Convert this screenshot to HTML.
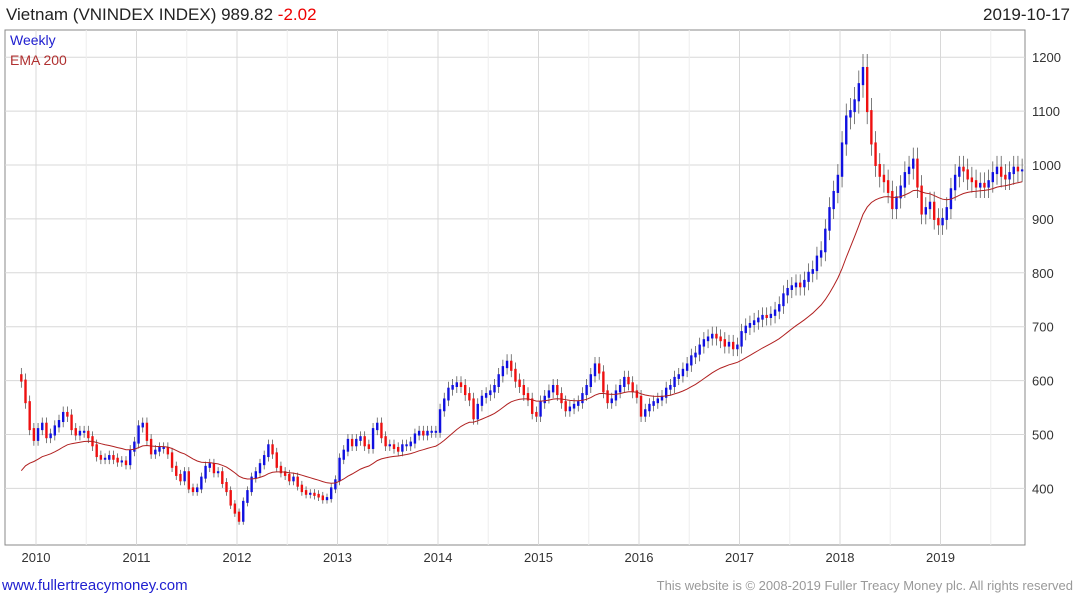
<!DOCTYPE html>
<html><head><meta charset="utf-8"><style>
body{margin:0;background:#fff;font-family:"Liberation Sans",sans-serif;}
svg text{font-family:"Liberation Sans",sans-serif;}
</style></head><body>
<svg id="c" width="1075" height="600">
<text x="6" y="20" font-size="17" fill="#222">Vietnam (VNINDEX INDEX) 989.82 <tspan fill="#e00">-2.02</tspan></text>
<text x="1070" y="20" font-size="17" fill="#222" text-anchor="end">2019-10-17</text>
<rect x="5" y="30" width="1020" height="515" fill="none" stroke="#888"/>
<g id="grid"></g><g id="marks"></g>
<text x="10" y="45" font-size="14" fill="#2020d0">Weekly</text>
<text x="10" y="65" font-size="14" fill="#b03030">EMA 200</text>
<text x="2" y="590" font-size="15" fill="#2020d0">www.fullertreacymoney.com</text>
<text x="1073" y="590" font-size="13" fill="#999" text-anchor="end">This website is © 2008-2019 Fuller Treacy Money plc. All rights reserved</text>
</svg>
<script>
const yTicks=[400,500,600,700,800,900,1000,1100,1200];
const years=[2010,2011,2012,2013,2014,2015,2016,2017,2018,2019];
const closes=[600,560,510,490,
510,520,495,500,515,525,540,535,510,500,505,505,495,480,460,455,455,460,455,450,450,445,470,485,
515,520,490,465,470,475,475,465,440,425,415,430,400,395,400,420,440,445,430,430,410,395,370,355,
340,375,395,420,430,445,460,480,465,440,430,425,415,420,405,395,390,390,388,385,380,382,400,415,
455,470,490,480,490,495,480,475,510,520,495,480,480,475,470,480,480,485,500,505,500,505,505,505,
545,565,585,590,595,590,575,565,530,555,570,575,580,590,610,625,635,620,600,590,575,565,540,535,
560,570,580,590,575,560,545,550,555,560,575,590,610,630,615,580,560,565,580,590,605,595,580,570,
535,545,555,560,565,570,585,590,605,610,620,630,645,650,665,675,680,685,680,675,665,670,660,665,
690,700,705,710,715,720,718,722,730,740,760,770,775,780,775,785,800,805,830,840,880,920,950,980,
1040,1090,1100,1120,1150,1180,1100,1040,1000,980,970,950,920,940,960,985,995,1010,960,910,920,930,900,890,
900,920,955,980,995,990,975,970,960,965,960,970,985,995,980,975,985,995,990,990];
const startYear=2009.833, emaSeed=420, emaAlpha=2/28;
const X=t=>36+(t-2010)*100.5;
const Y=v=>165-(v-1000)*0.539;
const NS="http://www.w3.org/2000/svg";
const grid=document.getElementById('grid'),marks=document.getElementById('marks'),svg=document.getElementById('c');
function mk(tag,attrs,parent){const e=document.createElementNS(NS,tag);for(const k in attrs)e.setAttribute(k,attrs[k]);parent.appendChild(e);return e;}
yTicks.forEach(v=>{
 const l=mk('line',{x1:5,x2:1025,y1:Y(v),y2:Y(v),stroke:'#d8d8d8'},grid);
 
 
 const t=mk('text',{x:1032,y:Y(v)+5,'font-size':13,fill:'#333'},svg);
 t.textContent=v;
 
 
});
years.forEach(yr=>{
 const l=mk('line',{x1:X(yr),x2:X(yr),y1:30,y2:545,stroke:'#d8d8d8'},grid);
 
 
 const l2=mk('line',{x1:X(yr+0.5),x2:X(yr+0.5),y1:30,y2:545,stroke:'#eee'},grid);
 
 
 const t=mk('text',{x:X(yr),y:562,'font-size':13,fill:'#333','text-anchor':'middle'},svg);
 t.textContent=yr;
 
 
});
let prev=closes[0]+10, ema=emaSeed, pts=[];
closes.forEach((c,i)=>{
 const t=startYear+i/24+1/48, x=X(t);
 const o=prev, hi=Math.max(o,c)*1.022, lo=Math.min(o,c)*0.978;
 const col=c>=o?'#1010e0':'#ee1010';
 const w=mk('line',{x1:x,x2:x,y1:Y(hi),y2:Y(lo),stroke:'#444','stroke-width':0.7},marks);
 
 
 const b=mk('rect',{x:x-1.2,y:Y(Math.max(o,c))-1,width:2.4,height:Math.max(2,Math.abs(Y(o)-Y(c))+2),fill:col},marks);
 
 
 ema=ema+emaAlpha*(c-ema); pts.push(x.toFixed(1)+','+Y(ema).toFixed(1));
 prev=c;
});
const p=mk('polyline',{points:pts.join(' '),fill:'none',stroke:'#b02020','stroke-width':1},marks);


</script>
</body></html>
